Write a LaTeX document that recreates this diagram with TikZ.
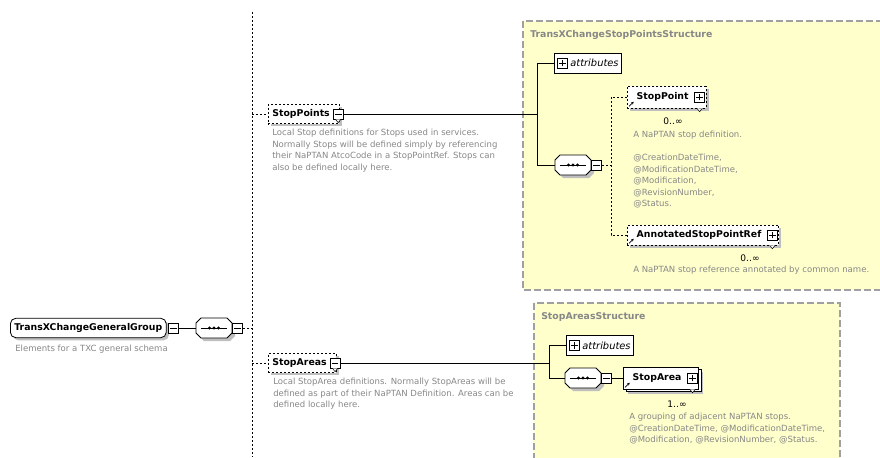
\documentclass[tikz,border=0pt]{standalone}
\usepackage{fontspec}
\setmainfont{DejaVu Sans}
\usetikzlibrary{shadows,arrows.meta}

\definecolor{grpfill}{RGB}{255,255,204}
\definecolor{grpline}{RGB}{160,160,160}
\definecolor{desctext}{RGB}{135,135,135}

\tikzset{
  elem/.style={draw, fill=white, line width=0.6pt, font=\bfseries\fontsize{7}{8}\selectfont,
    inner xsep=3pt, inner ysep=0pt, minimum height=14.5pt, anchor=west},
  optelem/.style={elem, dash pattern=on 1.5pt off 1.5pt},
  shadowed/.style={drop shadow={shadow xshift=2pt, shadow yshift=-2pt, fill=black!25, opacity=1}},
  pmbox/.style={draw, fill=white, line width=0.5pt, minimum size=7.5pt, inner sep=0pt},
  seqspace/.style={minimum width=27pt, minimum height=15pt, inner sep=0pt},
  desc/.style={text=desctext, font=\fontsize{6.4}{8.6}\selectfont, align=left, anchor=north west, inner sep=0pt},
  grpbox/.style={draw=grpline, fill=grpfill, line width=0.8pt, dash pattern=on 5pt off 2.5pt},
  grptitle/.style={text=desctext, font=\bfseries\fontsize{7}{8}\selectfont, anchor=west, inner sep=0pt},
  attrbox/.style={elem, font=\itshape\fontsize{7.4}{8}\selectfont, inner xsep=2pt, minimum height=15pt},
  link/.style={line width=0.7pt},
  optlink/.style={line width=0.7pt, dash pattern=on 1.5pt off 1.5pt},
  occurs/.style={font=\fontsize{6.8}{8}\selectfont, inner sep=0pt},
}

\newcommand{\minusmark}[1]{\draw[line width=0.5pt] ([xshift=-2.5pt]#1.center) -- ([xshift=2.5pt]#1.center);}
\newcommand{\plusmark}[1]{\minusmark{#1}\draw[line width=0.5pt] ([yshift=-2.5pt]#1.center) -- ([yshift=2.5pt]#1.center);}
% sequence compositor: name, left x, centre y
\newcommand{\seqnode}[3]{%
  \fill[black!25] (#2+8,#3-7) -- (#2+34,#3-7) -- (#2+39,#3-2) -- (#2+39,#3+8) -- (#2+34,#3+13)
    -- (#2+8,#3+13) -- (#2+3,#3+8) -- (#2+3,#3-2) -- cycle;
  \draw[line width=0.6pt, fill=white] (#2+5,#3-10) -- (#2+31,#3-10) -- (#2+36,#3-5) -- (#2+36,#3+5)
    -- (#2+31,#3+10) -- (#2+5,#3+10) -- (#2,#3+5) -- (#2,#3-5) -- cycle;
  \node[seqspace] (#1) at (#2+18,#3) {};
  \draw[line width=0.6pt] (#2+5,#3) -- (#2+31,#3);
  \foreach \dx in {13.5,18,22.5} \fill (#2+\dx,#3) circle (1.7);}
\newcommand{\refmark}[1]{\draw[line width=0.5pt, -{Stealth[length=2pt,width=2pt]}]
  ([xshift=1.5pt,yshift=1.5pt]#1.south west) -- ++(3.5pt,3.5pt);}
\newcommand{\notchmark}[2]{\draw[line width=0.4pt, fill=white] (#1.center |- #2.south) ++(-2pt,0) -- ++(2pt,-2.5pt) -- ++(2pt,2.5pt);}

\begin{document}
\begin{tikzpicture}[x=0.75pt, y=-0.75pt]
\useasboundingbox (0,0) rectangle (880,457);

% complex type groups
\draw[grpbox] (523,21) rectangle (884,290);
\node[grptitle] (title1) at (530,35) {TransXChangeStopPointsStructure};
\draw[grpbox] (534,303) rectangle (840,462);
\node[grptitle] (title2) at (541,317) {StopAreasStructure};

% root group
\node[elem, rounded corners=4pt, shadowed] (root) at (10,328) {TransXChangeGeneralGroup};
\node[pmbox, anchor=west] (rootm) at ([xshift=1pt]root.east) {}; \minusmark{rootm}
\node[desc] (rootd) at (15,345) {Elements for a TXC general schema};
\seqnode{seq1}{196}{328}
\node[pmbox, anchor=west] (seq1m) at (seq1.east) {}; \minusmark{seq1m}
\draw[link] (rootm) -- (seq1);

\coordinate (vtop) at (252,12);
\coordinate (vbot) at (252,457);
\draw[optlink] (vtop) -- (vbot);
\draw[optlink] (seq1m.east) -- (seq1m.east -| vtop);

% StopPoints
\node[optelem, shadowed] (stops) at (268,114) {StopPoints\kern4pt};
\node[pmbox] (stopsm) at ([xshift=-1pt]stops.east) {}; \minusmark{stopsm}
\notchmark{stopsm}{stopsm}
\draw[optlink] (stops.west -| vtop) -- (stops);
\node[desc] (stopsd) at (272,129) {Local Stop definitions for Stops used in services.\\
  Normally Stops will be defined simply by referencing\\
  their NaPTAN AtcoCode in a StopPointRef. Stops can\\
  also be defined locally here.};

\coordinate (fork1) at (537,114);
\draw[link] (stopsm) -- (fork1);
\node[attrbox] (attr1) at (554,63) {\kern10pt attributes};
\node[pmbox, anchor=west] (attr1p) at ([xshift=2.5pt]attr1.west) {}; \plusmark{attr1p}
\seqnode{seq2}{555}{165}
\node[pmbox, anchor=west] (seq2m) at (seq2.east) {}; \minusmark{seq2m}
\draw[link] (attr1) -| (fork1) |- (seq2);

\coordinate (fork2) at (611,165);
\draw[optlink] (seq2m) -- (fork2);
\node[optelem, shadowed, minimum height=16.5pt] (stop) at (627,97) {\kern4pt StopPoint\kern10pt};
\node[pmbox, anchor=east] (stopp) at ([xshift=-1pt]stop.east) {}; \plusmark{stopp}
\refmark{stop} \notchmark{stopp}{stop}
\node[occurs] (stopo) at (673,121) {0..∞};
\node[desc] (stopd) at (633,131) {A NaPTAN stop definition.\\[8.6pt]
  @CreationDateTime,\\ @ModificationDateTime,\\ @Modification,\\ @RevisionNumber,\\ @Status.};

\node[optelem, shadowed, minimum height=15pt] (aspr) at (627,235) {\kern4pt AnnotatedStopPointRef\kern10pt};
\node[pmbox, anchor=east] (asprp) at ([xshift=-1pt]aspr.east) {}; \plusmark{asprp}
\refmark{aspr} \notchmark{asprp}{aspr}
\draw[optlink] (stop) -| (fork2) |- (aspr);
\node[occurs] (aspro) at (750,258) {0..∞};
\node[desc] (asprd) at (633,266) {A NaPTAN stop reference annotated by common name.};

% StopAreas
\node[optelem, shadowed] (areas) at (268,363) {StopAreas\kern4pt};
\node[pmbox] (areasm) at ([xshift=-1pt]areas.east) {}; \minusmark{areasm}
\notchmark{areasm}{areasm}
\draw[optlink] (areas.west -| vtop) -- (areas);
\node[desc] (areasd) at (273,378) {Local StopArea definitions. Normally StopAreas will be\\
  defined as part of their NaPTAN Definition. Areas can be\\
  defined locally here.};

\coordinate (fork3) at (549,363);
\draw[link] (areasm) -- (fork3);
\node[attrbox] (attr2) at (566,345.5) {\kern10pt attributes};
\node[pmbox, anchor=west] (attr2p) at ([xshift=2.5pt]attr2.west) {}; \plusmark{attr2p}
\seqnode{seq3}{565}{378}
\node[pmbox, anchor=west] (seq3m) at (seq3.east) {}; \minusmark{seq3m}
\draw[link] (attr2) -| (fork3) |- (seq3);

\node[elem, drop shadow={shadow xshift=3.5pt, shadow yshift=-3.5pt, fill=black!25, opacity=1},
  copy shadow={shadow xshift=2pt, shadow yshift=-2pt}, minimum height=16.5pt] (area) at (623,378) {\kern4pt StopArea\kern10pt};
\node[pmbox, anchor=east] (areap) at ([xshift=-1pt]area.east) {}; \plusmark{areap}
\refmark{area} \notchmark{areap}{area}
\draw[link] (seq3m) -- (area);
\node[occurs] (areao) at (677,404) {1..∞};
\node[desc] (aread) at (629,413) {A grouping of adjacent NaPTAN stops.\\
  @CreationDateTime, @ModificationDateTime,\\
  @Modification, @RevisionNumber, @Status.};
\end{tikzpicture}
\end{document}
